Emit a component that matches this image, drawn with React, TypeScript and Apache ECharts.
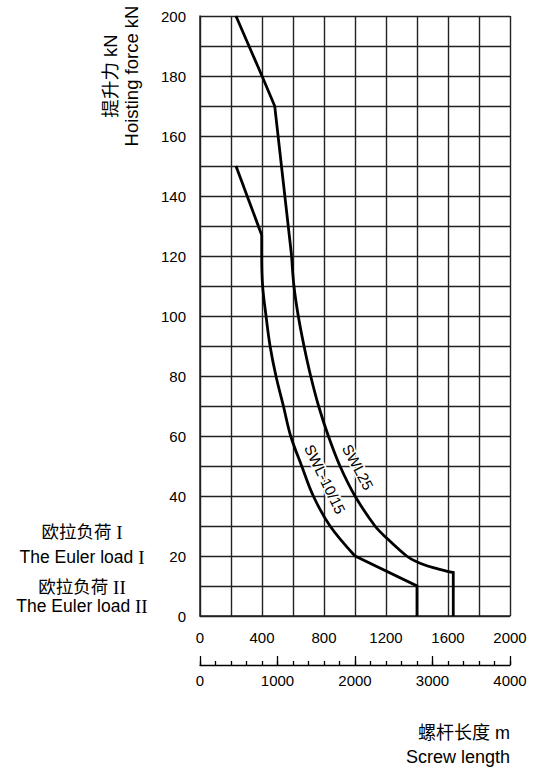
import React, { useEffect, useRef } from "react";
import * as echarts from "echarts";

// Screw length (m) vs. hoisting force (kN) for the two load classes
const swl25Upper: [number, number][] = [
  [232, 200], [400, 180], [482, 170], [591, 120],
];
const swl25Curve: [number, number][] = [
  [591, 120], [606, 110], [634, 100], [671, 90], [714, 80], [765, 70],
  [828, 60], [903, 50], [1000, 40], [1129, 30], [1204, 26], [1333, 20],
  [1398, 18.1], [1505, 16.1], [1602, 14.8],
];
const swl25End: [number, number][] = [
  [1602, 14.8], [1634, 14.5], [1634, 0],
];

const swl1015Upper: [number, number][] = [
  [232, 150], [398, 127],
];
const swl1015Curve: [number, number][] = [
  [398, 127], [398, 120], [404, 110], [426, 100], [452, 90], [490, 80],
  [538, 70], [585, 60], [656, 50], [731, 40], [839, 30], [1000, 20],
];
const swl1015End: [number, number][] = [
  [1000, 20], [1400, 10], [1400, 0],
];

const forceLabelStep = 20;
const lengthLabelStep = 400;

const FONT = "'Liberation Sans', Arial, 'Noto Sans CJK SC', sans-serif";
const GRID_COLOR = "#222";

export default function App() {
  const ref = useRef<HTMLDivElement>(null);

  useEffect(() => {
    if (!ref.current) return;
    const chart = echarts.init(ref.current, undefined, { renderer: "svg" });

    const curve = (data: [number, number][], smooth: number | boolean) => ({
      type: "line",
      xAxisIndex: 0,
      yAxisIndex: 0,
      data,
      smooth,
      symbol: "none",
      lineStyle: { color: "#000", width: 2.8, join: "miter" },
      z: 5,
    });

    chart.setOption({
      animation: false,
      backgroundColor: "#fff",
      textStyle: { fontFamily: FONT },
      grid: [
        { left: 200, top: 16, width: 310, height: 600 },
        { left: 200, top: 655, width: 310, height: 10 },
      ],
      xAxis: [
        {
          type: "value",
          gridIndex: 0,
          min: 0,
          max: 2000,
          interval: 200,
          axisLine: { show: true, lineStyle: { color: GRID_COLOR, width: 1.5 } },
          axisTick: { show: false },
          axisLabel: {
            color: "#000",
            fontSize: 15,
            fontFamily: FONT,
            margin: 14,
            formatter: (v: number) => (v % lengthLabelStep === 0 ? String(v) : ""),
          },
          splitLine: { show: true, lineStyle: { color: GRID_COLOR, width: 1.4 } },
        },
        // secondary length scale: short ticks every 200
        {
          type: "value",
          gridIndex: 1,
          position: "bottom",
          min: 0,
          max: 4000,
          interval: 200,
          axisLine: { show: true, lineStyle: { color: "#000", width: 1.3 } },
          axisTick: { show: true, inside: true, length: 4, lineStyle: { color: "#000", width: 1.3 } },
          axisLabel: { show: false },
          splitLine: { show: false },
        },
        // secondary length scale: long ticks and labels every 1000
        {
          type: "value",
          gridIndex: 1,
          position: "bottom",
          min: 0,
          max: 4000,
          interval: 1000,
          axisLine: { show: false },
          axisTick: { show: true, inside: true, length: 9, lineStyle: { color: "#000", width: 1.3 } },
          axisLabel: {
            color: "#000",
            fontSize: 15,
            fontFamily: FONT,
            margin: 8,
            formatter: (v: number) => String(v),
          },
          splitLine: { show: false },
        },
      ],
      yAxis: [
        {
          type: "value",
          gridIndex: 0,
          min: 0,
          max: 200,
          interval: 10,
          axisLine: { show: true, lineStyle: { color: GRID_COLOR, width: 1.5 } },
          axisTick: { show: false },
          axisLabel: {
            color: "#000",
            fontSize: 15,
            fontFamily: FONT,
            margin: 14,
            formatter: (v: number) => (v % forceLabelStep === 0 ? String(v) : ""),
          },
          splitLine: { show: true, lineStyle: { color: GRID_COLOR, width: 1.4 } },
        },
        { type: "value", gridIndex: 1, show: false, min: 0, max: 1 },
      ],
      series: [
        curve(swl25Upper, false),
        curve(swl25Curve, 0.35),
        curve(swl25End, false),
        curve(swl1015Upper, false),
        curve(swl1015Curve, 0.35),
        curve(swl1015End, false),
      ],
      graphic: [
        {
          type: "text",
          x: 121,
          y: 76,
          rotation: Math.PI / 2,
          style: {
            text: "提升力 kN\nHoisting force kN",
            fontSize: 18.5,
            lineHeight: 21,
            fontFamily: FONT,
            fill: "#000",
            align: "center",
            verticalAlign: "middle",
          },
        },
        {
          type: "text",
          x: 510,
          y: 733,
          style: {
            text: "螺杆长度 m",
            fontSize: 18,
            fontFamily: FONT,
            fill: "#000",
            align: "right",
            verticalAlign: "middle",
          },
        },
        {
          type: "text",
          x: 510,
          y: 757,
          style: {
            text: "Screw length",
            fontSize: 18,
            fontFamily: FONT,
            fill: "#000",
            align: "right",
            verticalAlign: "middle",
          },
        },
        ...[
          { t: "欧拉负荷 {r|I}", y: 532 },
          { t: "The Euler load {r|I}", y: 557 },
          { t: "欧拉负荷 {r|II}", y: 587 },
          { t: "The Euler load {r|II}", y: 606 },
        ].map((item) => ({
          type: "text",
          x: 82,
          y: item.y,
          style: {
            text: item.t,
            fontSize: 17.5,
            fontFamily: FONT,
            fill: "#000",
            align: "center",
            verticalAlign: "middle",
            rich: {
              r: { fontFamily: "'Liberation Serif', 'Times New Roman', serif", fontSize: 19, fill: "#000" },
            },
          },
        })),
        {
          type: "text",
          x: 358,
          y: 467,
          rotation: -1.08,
          z: 10,
          style: {
            text: "SWL25",
            fontSize: 15,
            fontFamily: FONT,
            fill: "#000",
            align: "center",
            verticalAlign: "middle",
            stroke: "#fff",
            lineWidth: 3,
          },
        },
        {
          type: "text",
          x: 325,
          y: 479,
          rotation: -1.12,
          z: 10,
          style: {
            text: "SWL-10/15",
            fontSize: 15,
            fontFamily: FONT,
            fill: "#000",
            align: "center",
            verticalAlign: "middle",
            stroke: "#fff",
            lineWidth: 3,
          },
        },
      ],
    });

    return () => chart.dispose();
  }, []);

  return (
    <div
      ref={ref}
      style={{ position: "fixed", left: 0, top: 0, width: 538, height: 767 }}
    />
  );
}
